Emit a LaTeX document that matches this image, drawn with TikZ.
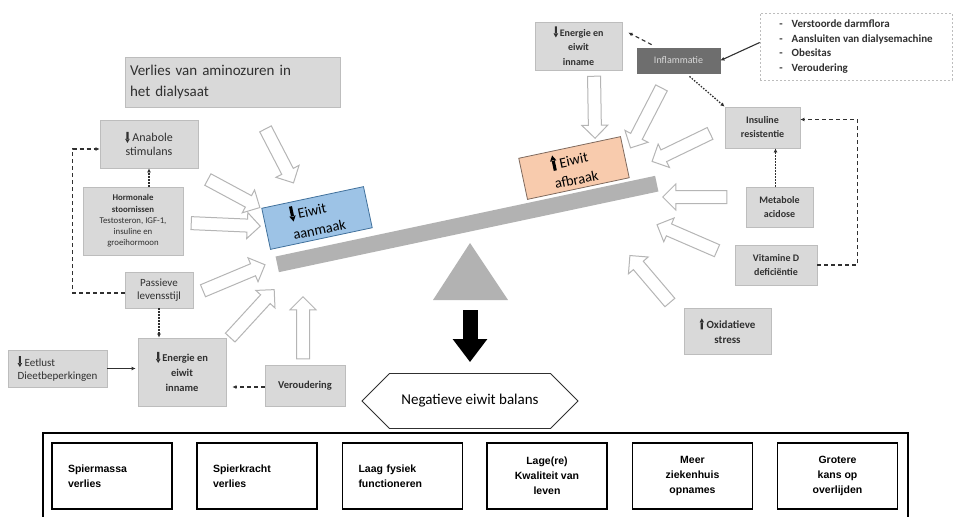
\documentclass[tikz,border=0pt]{standalone}
\usepackage{fontspec}
\setmainfont{Carlito}
\newfontfamily\arialfont{Liberation Sans}
\usetikzlibrary{arrows.meta,calc,shapes.arrows,shapes.misc,positioning}

\definecolor{boxfill}{HTML}{D9D9D9}
\definecolor{boxline}{HTML}{BDBDBD}
\definecolor{txtgray}{HTML}{303030}
\definecolor{inflfill}{HTML}{6E6E6E}
\definecolor{aanmaakblue}{HTML}{9DC3E6}
\definecolor{aanmaakline}{HTML}{41719C}
\definecolor{afbraakorange}{HTML}{F8CBAD}
\definecolor{afbraakline}{HTML}{7F6A5E}
\definecolor{plankgray}{HTML}{B2B2B2}
\definecolor{hollowline}{HTML}{B5B5B5}

% thick black up/down glyphs used in the labels
\newcommand\dnarr[1][1]{\tikz[baseline=0pt,scale=#1]\fill (-1.1pt,10pt) rectangle (1.1pt,2.5pt) (-2.3pt,3pt) -- (2.3pt,3pt) -- (0pt,-1pt) -- cycle;}
\newcommand\uparr[1][1]{\tikz[baseline=0pt,scale=#1]\fill (-1.1pt,-1pt) rectangle (1.1pt,6.5pt) (-2.3pt,6pt) -- (2.3pt,6pt) -- (0pt,10pt) -- cycle;}
% open block arrow between two named points
\newcommand\hollowarrow[2]{\path let \p1=(#1), \p2=(#2), \n1={atan2(\y2-\y1,\x2-\x1)}, \n2={veclen(\x2-\x1,\y2-\y1)} in
  node[hollow, minimum height=\n2, rotate=\n1] at ($(#1)!0.5!(#2)$) {};}

\begin{document}
\begin{tikzpicture}[x=1pt,y=-1pt,
    box/.style={draw=boxline, fill=boxfill, text=txtgray, align=center, inner sep=1pt, line width=0.8pt},
    hollow/.style={single arrow, draw=hollowline, fill=white, line width=1pt, inner sep=6pt,
      single arrow head extend=6.5pt, single arrow tip angle=90},
    dashline/.style={draw=txtgray, line width=1.1pt, dash pattern=on 4pt off 3pt},
    dotline/.style={draw=txtgray, line width=1.3pt, dash pattern=on 1.5pt off 1.5pt},
    arr/.style={-{Latex[length=4pt,width=4pt]}},
    result/.style={draw, line width=1.1pt, minimum width=120, minimum height=66, align=center,
      font=\arialfont\bfseries\fontsize{10.5}{15}\selectfont},
    bigarrow/.style={line width=15pt, -{Triangle[length=23pt,width=33pt]}}]
\useasboundingbox (0,0) rectangle (954,517);

% opbouw (links)
\node[box, text width=205, align=left, minimum width=215, minimum height=50,
  font=\fontsize{15}{21}\selectfont] (verlies) at (232.5,82) {Verlies van aminozuren in\\het dialysaat};
\node[box, minimum width=98, minimum height=48, font=\fontsize{12}{14}\selectfont] (anabole) at (149,144) {\dnarr\ Anabole\\stimulans};
\node[box, minimum width=100, minimum height=68, font=\fontsize{8.8}{11.3}\selectfont] (hormon) at (133,221)
  {\textbf{Hormonale}\\\textbf{stoornissen}\\Testosteron, IGF-1,\\insuline en\\groeihormoon};
\node[box, minimum width=68, minimum height=36, font=\fontsize{11}{13}\selectfont] (passieve) at (159,290) {Passieve\\levensstijl};
\node[box, align=left, minimum width=99, minimum height=37, font=\fontsize{11}{13}\selectfont] (eetlust) at (57.5,368.5) {\dnarr\ Eetlust\\Dieetbeperkingen};
\node[box, minimum width=88, minimum height=68, font=\bfseries\fontsize{10.5}{15}\selectfont] (energieL) at (182,372) {\dnarr\,Energie en\\eiwit\\inname};
\node[box, minimum width=80, minimum height=41, font=\bfseries\fontsize{10.5}{13}\selectfont] (verouderL) at (305,385.5) {Veroudering};

% afbraak (rechts)
\node[box, minimum width=87, minimum height=48, font=\bfseries\fontsize{10}{14.5}\selectfont] (energieR) at (578.5,46) {\dnarr\,Energie en\\eiwit\\inname};
\node[box, draw=inflfill, fill=inflfill, text=boxfill, minimum width=83, minimum height=25, font=\fontsize{10}{12}\selectfont] (inflam) at (678.5,60.5) {Inflammatie};
\node[draw=boxline, line width=0.6pt, dash pattern=on 2pt off 2pt, fill=white, text=txtgray, align=left,
  minimum width=192, minimum height=67, font=\bfseries\fontsize{11}{14.5}\selectfont] (list) at (856,46.5)
  {-\hspace{9pt}Verstoorde darmflora\\-\hspace{9pt}Aansluiten van dialysemachine\\-\hspace{9pt}Obesitas\\-\hspace{9pt}Veroudering};
\node[box, minimum width=75, minimum height=41, font=\bfseries\fontsize{10}{14}\selectfont] (insuline) at (762.5,127.5) {Insuline\\resistentie};
\node[box, minimum width=67, minimum height=40, font=\bfseries\fontsize{10}{14}\selectfont] (metabole) at (779.5,207) {Metabole\\acidose};
\node[box, minimum width=82, minimum height=40, font=\bfseries\fontsize{10}{14}\selectfont] (vitamine) at (776,265) {Vitamine D\\deficiëntie};
\node[box, minimum width=87, minimum height=46, font=\bfseries\fontsize{11}{15}\selectfont] (oxidatief) at (727.5,331) {\uparr\ Oxidatieve\\stress};

% de weegschaal
\node[fill=plankgray, minimum width=388, minimum height=16, inner sep=0pt, rotate=12] (plank) at (467,224) {};
\fill[plankgray] (470,243) -- (433,300) -- (508,300) -- cycle;
\coordinate (fulcrum) at (470,300);
\node[draw=aanmaakline, fill=aanmaakblue, line width=0.8pt, minimum width=104, minimum height=42, rotate=12,
  align=left, font=\fontsize{14.5}{19.5}\selectfont] (aanmaak) at (317,218) {\dnarr[1.4]\,Eiwit\\aanmaak};
\node[draw=afbraakline, fill=afbraakorange, line width=0.8pt, minimum width=104, minimum height=42, rotate=12,
  align=left, font=\fontsize{14.5}{19.5}\selectfont] (afbraak) at (574,168) {\uparr[1.4]\,Eiwit\\afbraak};

\node[chamfered rectangle, chamfered rectangle xsep=14pt, chamfered rectangle ysep=21pt, draw=txtgray, line width=0.8pt,
  minimum width=216, minimum height=46, inner sep=0pt, font=\fontsize{15}{17}\selectfont] (balans) at (470,401) {Negatieve eiwit balans};
\draw[bigarrow] ($(fulcrum)+(0,10)$) -- ($(balans.north)+(0,-11)$);

% gevolgen
\node[draw, line width=1.1pt, minimum width=865, minimum height=100, inner sep=0pt] (gevolgen) at (475.5,483) {};
\node[result, align=left, text width=88] (r1) at (112,476) {Spiermassa\\verlies};
\node[result, align=left, text width=88] (r2) at (257,476) {Spierkracht\\verlies};
\node[result, align=left, text width=88] (r3) at (402.5,476) {Laag fysiek\\functioneren};
\node[result] (r4) at (547,476) {Lage(re)\\Kwaliteit van\\leven};
\node[result] (r5) at (692.5,476) {Meer\\ziekenhuis\\opnames};
\node[result] (r6) at (837.5,476) {Grotere\\kans op\\overlijden};

% verbindingen links
\draw[dashline, arr] ([yshift=-3pt]passieve.west) -- ++(-52,0) |- ([yshift=-5pt]anabole.west);
\draw[dotline, arr] (anabole.south |- hormon.north) -- (anabole.south);
\draw[dotline, arr] (passieve.south) -- (passieve.south |- energieL.north);
\draw[line width=1.1pt, draw=txtgray, arr, shorten >=2pt] (eetlust.east) -- (eetlust.east -| energieL.west);
\draw[dashline, arr, shorten >=6pt] ([yshift=-1.5pt]verouderL.west) -- ([yshift=-1.5pt]verouderL.west -| energieL.east);

% verbindingen rechts
\draw[dashline, arr] ($(inflam.north west)+(15,-3)$) -- ($(energieR.north east)+(6,11)$);
\draw[line width=1.1pt, draw=txtgray, arr] ([yshift=4pt]list.west) -- (inflam.east);
\draw[dotline, arr] ($(inflam.south)+(11,3)$) -- (insuline.north west);
\draw[dotline, arr] ([xshift=-4pt]metabole.north) -- ([xshift=-4pt]metabole.north |- insuline.south);
\draw[dashline, arr] (vitamine.east) -- ++(40,0) |- ([yshift=8pt]insuline.east);

% open pijlen naar de weegschaal
\foreach \nm/\from/\to in {a1/{264,126}/{292,180}, a2/{205,178}/{257,206}, a3/{188,223}/{257,226},
    a4/{200,292}/{262,266}, a5/{228,340}/{272,292}, a6/{303,362}/{303,300},
    b1/{594,73}/{595,135}, b2/{663,85}/{632,145}, b3/{713,132}/{655,160},
    b4/{730,197}/{666,197}, b5/{720,252}/{660,226}, b6/{672,305}/{632,258}}{
  \coordinate (\nm s) at (\from);
  \coordinate (\nm e) at (\to);
  \hollowarrow{\nm s}{\nm e}
}
\end{tikzpicture}
\end{document}
